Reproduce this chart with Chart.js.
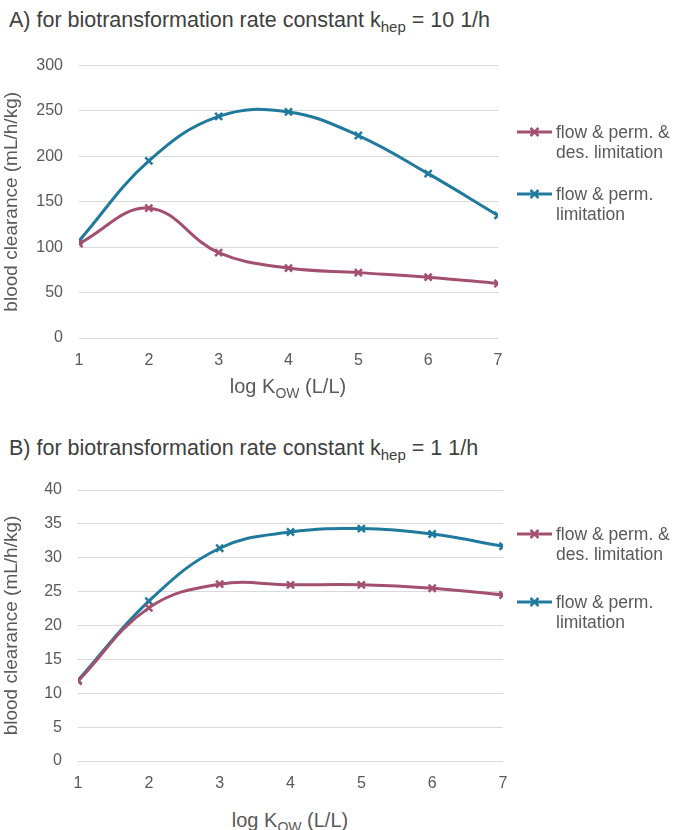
<!DOCTYPE html>
<html>
<head>
<meta charset="utf-8">
<script src="https://cdn.jsdelivr.net/npm/chart.js@4.4.1/dist/chart.umd.min.js"></script>
<style>
  html, body { margin: 0; padding: 0; background: #fff; }
  body { width: 673px; height: 830px; position: relative; overflow: hidden;
         font-family: "Liberation Sans", Arial, sans-serif; }
  .title { position: absolute; left: 9px; color: #404040; white-space: nowrap; line-height: 24px; font-size: 21.5px; }
  .xtitle { position: absolute; font-size: 20px; color: #595959; white-space: nowrap; transform: translateX(-50%); line-height: 24px; }
  sub { font-size: 70%; vertical-align: -0.35em; line-height: 0; }
  canvas { position: absolute; left: 0; }
</style>
</head>
<body>
<div class="title" style="top:8px;">A) for biotransformation rate constant k<sub>hep</sub> = 10 1/h</div>
<canvas id="cA" width="673" height="340" style="top:40px;"></canvas>
<div class="xtitle" style="left:288px; top:374px;">log K<sub>OW</sub> (L/L)</div>

<div class="title" style="top:436px;">B) for biotransformation rate constant k<sub>hep</sub> = 1 1/h</div>
<canvas id="cB" width="673" height="330" style="top:460px;"></canvas>
<div class="xtitle" style="left:290px; top:808px;">log K<sub>OW</sub> (L/L)</div>

<script>
// ---- data ----
const logKow = [1, 2, 3, 4, 5, 6, 7];
const seriesNames = [["flow & perm. &", "des. limitation"], ["flow & perm.", "limitation"]];
const seriesColors = ["#a3506f", "#1f7a9e"];

const clearanceA_flowPermDes = [104, 143, 94, 77, 72, 67, 60];
const clearanceA_flowPerm    = [107, 195, 244, 249, 223, 181, 135];

const clearanceB_flowPermDes = [11.8, 22.6, 26.1, 26.0, 26.0, 25.5, 24.5];
const clearanceB_flowPerm    = [11.9, 23.6, 31.4, 33.8, 34.3, 33.5, 31.7];

const yTicksA = { min: 0, max: 300, step: 50 };
const yTicksB = { min: 0, max: 40, step: 5 };

const FONT = '"Liberation Sans", Arial, sans-serif';

// ---- helpers ----
function makeDataset(values, idx) {
  return {
    label: seriesNames[idx].join(" "),
    legendLines: seriesNames[idx],
    data: logKow.map((x, i) => ({ x: x, y: values[i] })),
    borderColor: seriesColors[idx],
    backgroundColor: seriesColors[idx],
    borderWidth: 3,
    tension: 0.4,
    pointStyle: 'crossRot',
    pointRadius: 5,
    pointBorderWidth: 2.5,
    pointHoverRadius: 5,
    fill: false
  };
}

const sideLegend = {
  id: 'sideLegend',
  afterDraw(chart, args, opts) {
    const ctx = chart.ctx;
    ctx.save();
    ctx.font = '17.5px ' + FONT;
    ctx.textBaseline = 'middle';
    ctx.textAlign = 'left';
    chart.data.datasets.forEach((ds, i) => {
      const y0 = opts.ys[i];
      const x0 = opts.x;
      ctx.strokeStyle = ds.borderColor;
      ctx.lineWidth = 3;
      ctx.beginPath();
      ctx.moveTo(x0, y0);
      ctx.lineTo(x0 + 35, y0);
      ctx.stroke();
      const cx = x0 + 17.5, r = 4;
      ctx.lineWidth = 2.5;
      ctx.beginPath();
      ctx.moveTo(cx - r, y0 - r); ctx.lineTo(cx + r, y0 + r);
      ctx.moveTo(cx - r, y0 + r); ctx.lineTo(cx + r, y0 - r);
      ctx.stroke();
      ctx.fillStyle = '#595959';
      ds.legendLines.forEach((t, k) => {
        ctx.fillText(t, x0 + 39, y0 + 1 + k * 20);
      });
    });
    ctx.restore();
  }
};

function buildChart(id, dsValues, yt, padTop, padBottom, plotLeft, plotRight, legendYs) {
  const canvas = document.getElementById(id);
  return new Chart(canvas, {
    type: 'line',
    data: { datasets: dsValues.map((v, i) => makeDataset(v, i)) },
    options: {
      responsive: false,
      animation: false,
      events: [],
      layout: { padding: { left: 0, right: 673 - plotRight, top: padTop, bottom: padBottom } },
      plugins: {
        legend: { display: false },
        tooltip: { enabled: false },
        sideLegend: { x: 517, ys: legendYs }
      },
      scales: {
        x: {
          type: 'linear',
          min: logKow[0], max: logKow[logKow.length - 1],
          grid: { display: false, drawTicks: false },
          border: { display: false },
          ticks: { stepSize: 1, padding: 13, color: '#595959',
                   font: { size: 16, family: FONT } },
          afterFit(s) { s.height = 30; }
        },
        y: {
          min: yt.min, max: yt.max,
          grid: { color: '#d9d9d9', lineWidth: 1, drawTicks: false },
          border: { display: false },
          ticks: { stepSize: yt.step, padding: 16, color: '#595959',
                   font: { size: 16, family: FONT } },
          title: { display: true, text: 'blood clearance (mL/h/kg)', color: '#595959',
                   font: { size: 19, family: FONT },
                   padding: { top: 0, bottom: 0 } },
          afterFit(s) { s.width = plotLeft; }
        }
      }
    },
    plugins: [sideLegend]
  });
}

// Chart A: canvas top at page 40; plot top 63 -> 23, bottom 338 -> 298
buildChart('cA', [clearanceA_flowPermDes, clearanceA_flowPerm], yTicksA,
           23, 340 - 298 - 30, 79, 498, [92, 154]);
// Chart B: canvas top at page 460; plot top 490 -> 30, bottom 761 -> 301
buildChart('cB', [clearanceB_flowPermDes, clearanceB_flowPerm], yTicksB,
           30, 330 - 301 - 30, 78, 503, [74, 142]);
</script>
</body>
</html>
